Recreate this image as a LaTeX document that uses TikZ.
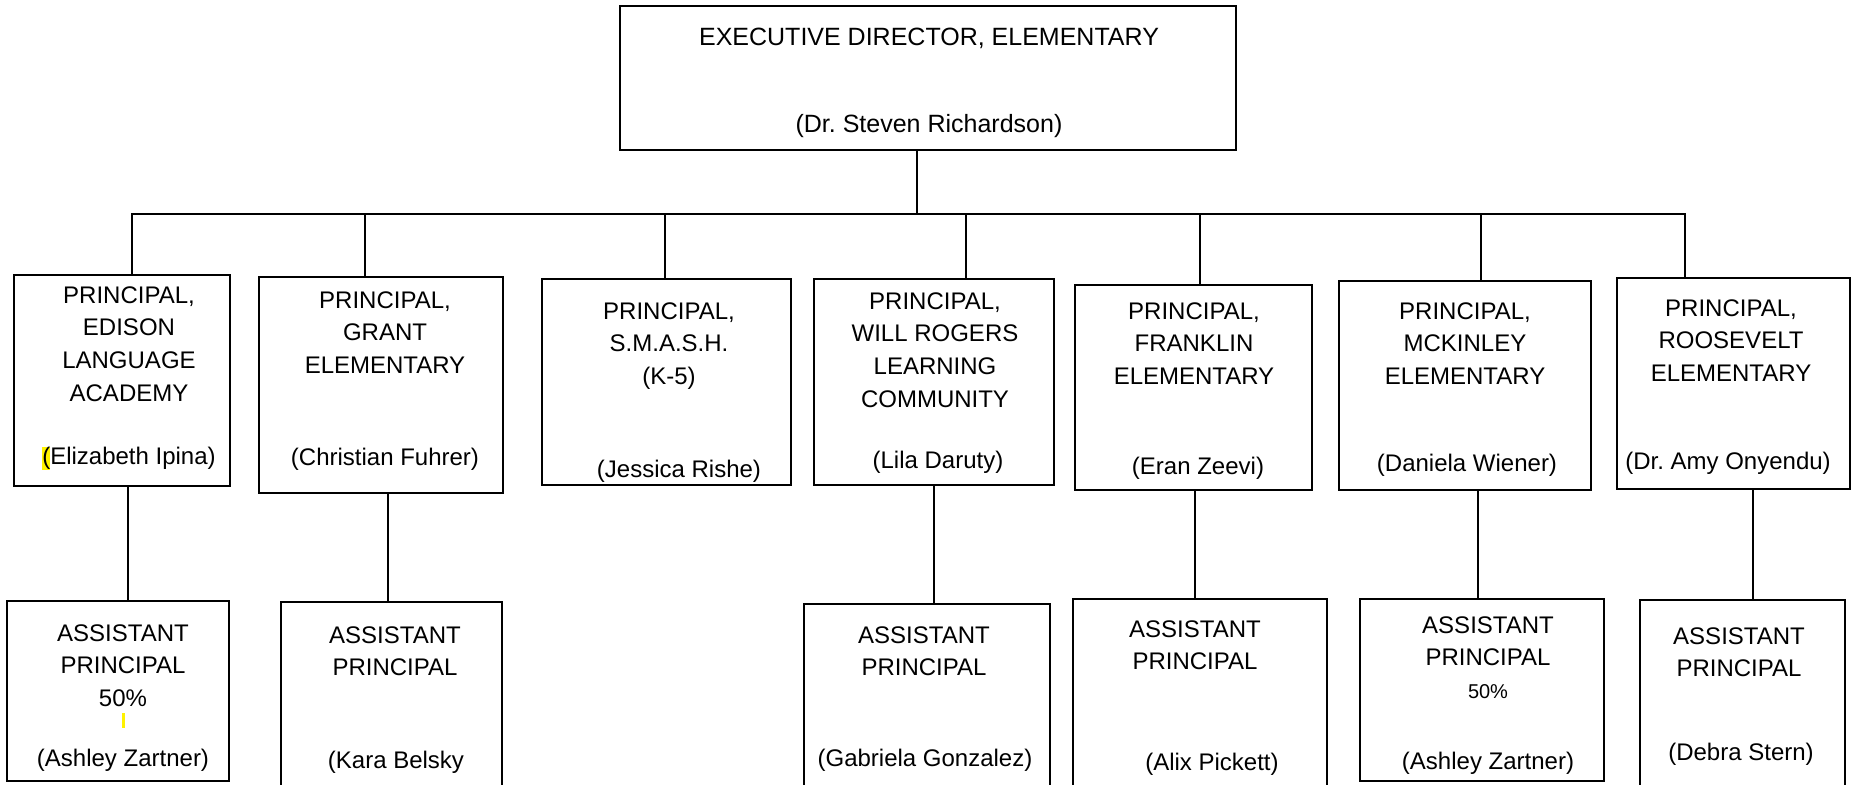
\documentclass[tikz,border=0pt]{standalone}
\usepackage{fontspec}
\setmainfont{Liberation Sans}
\newcommand\yelhl[1]{{\setlength{\fboxsep}{0pt}\colorbox{yellow}{#1}}}
\begin{document}
\begin{tikzpicture}[x=0.5pt,y=-0.5pt]
    \tikzstyle{box}=[draw=black, line width=1.4pt, outer sep=0pt, inner sep=0pt, anchor=north west]
    \tikzstyle{txt}=[anchor=north, align=center, inner sep=0pt, font=\fontsize{12}{16.4}\selectfont]
    \tikzstyle{link}=[draw=black, line width=1pt]
    \tikzset{sz/.style 2 args={minimum width=#1*0.5pt, minimum height=#2*0.5pt}}

    \fill[white] (0,0) rectangle (1853,784);
    \clip (0,0) rectangle (1853,784);

    % top
    \node[box, sz={616}{144}] (exec) at (620,6) {};
    \node[txt, font=\fontsize{12.5}{16}\selectfont] (exect) at (929,28) {EXECUTIVE DIRECTOR, ELEMENTARY};
    \node[txt, font=\fontsize{12.5}{16}\selectfont] (execn) at (929,114) {(Dr.\ Steven Richardson)};

    % principals
    \node[box, sz={216}{211}] (p1) at (14,275) {};
    \node[txt] (p1t) at (129,286) {PRINCIPAL,\\EDISON\\LANGUAGE\\ACADEMY};
    \node[txt] (p1n) at (129,447) {\yelhl{(}Elizabeth Ipina)};

    \node[box, sz={244}{216}] (p2) at (259,277) {};
    \node[txt] (p2t) at (385,291) {PRINCIPAL,\\GRANT\\ELEMENTARY};
    \node[txt] (p2n) at (385,448) {(Christian Fuhrer)};

    \node[box, sz={249}{206}] (p3) at (542,279) {};
    \node[txt] (p3t) at (669,302) {PRINCIPAL,\\S.M.A.S.H.\\(K-5)};
    \node[txt] (p3n) at (679,460) {(Jessica Rishe)};

    \node[box, sz={240}{206}] (p4) at (814,279) {};
    \node[txt] (p4t) at (935,292) {PRINCIPAL,\\WILL ROGERS\\LEARNING\\COMMUNITY};
    \node[txt] (p4n) at (938,451) {(Lila Daruty)};

    \node[box, sz={237}{205}] (p5) at (1075,285) {};
    \node[txt] (p5t) at (1194,302) {PRINCIPAL,\\FRANKLIN\\ELEMENTARY};
    \node[txt] (p5n) at (1198,457) {(Eran Zeevi)};

    \node[box, sz={252}{209}] (p6) at (1339,281) {};
    \node[txt] (p6t) at (1465,302) {PRINCIPAL,\\MCKINLEY\\ELEMENTARY};
    \node[txt] (p6n) at (1467,454) {(Daniela Wiener)};

    \node[box, sz={233}{211}] (p7) at (1617,278) {};
    \node[txt] (p7t) at (1731,299) {PRINCIPAL,\\ROOSEVELT\\ELEMENTARY};
    \node[txt] (p7n) at (1728,452) {(Dr.\ Amy Onyendu)};

    % assistants
    \node[box, sz={222}{180}] (a1) at (7,601) {};
    \node[txt] (a1t) at (123,624) {ASSISTANT\\PRINCIPAL\\50\%};
    \node[txt] (a1n) at (123,749) {(Ashley Zartner)};
    \fill[yellow] (122,713) rectangle (125,728);

    \node[box, sz={221}{250}] (a2) at (281,602) {};
    \node[txt] (a2t) at (395,626) {ASSISTANT\\PRINCIPAL};
    \node[txt] (a2n) at (396,751) {(Kara Belsky};

    \node[box, sz={246}{250}] (a3) at (804,604) {};
    \node[txt] (a3t) at (924,626) {ASSISTANT\\PRINCIPAL};
    \node[txt] (a3n) at (925,749) {(Gabriela Gonzalez)};

    \node[box, sz={254}{250}] (a4) at (1073,599) {};
    \node[txt] (a4t) at (1195,620) {ASSISTANT\\PRINCIPAL};
    \node[txt] (a4n) at (1212,753) {(Alix Pickett)};

    \node[box, sz={244}{182}] (a5) at (1360,599) {};
    \node[txt] (a5t) at (1488,616) {ASSISTANT\\PRINCIPAL\\{\fontsize{10}{16.4}\selectfont 50\%}};
    \node[txt] (a5n) at (1488,752) {(Ashley Zartner)};

    \node[box, sz={205}{250}] (a6) at (1640,600) {};
    \node[txt] (a6t) at (1739,627) {ASSISTANT\\PRINCIPAL};
    \node[txt] (a6n) at (1741,743) {(Debra Stern)};

    % connectors
    \coordinate (bus) at (917,214);
    \draw[link] ([xshift=-5.5pt]exec.south) -- (bus);
    \draw[link] ([xshift=5pt]p1.north) |- (bus) -| ([xshift=-24.25pt]p7.north);
    \draw[link] ([xshift=-8pt]p2.north) -- ([xshift=-8pt]p2.north |- bus);
    \draw[link] ([xshift=-0.75pt]p3.north) -- ([xshift=-0.75pt]p3.north |- bus);
    \draw[link] ([xshift=16pt]p4.north) -- ([xshift=16pt]p4.north |- bus);
    \draw[link] ([xshift=3.25pt]p5.north) -- ([xshift=3.25pt]p5.north |- bus);
    \draw[link] ([xshift=8pt]p6.north) -- ([xshift=8pt]p6.north |- bus);

    \draw[link] ([xshift=3pt]p1.south) -- ([xshift=3pt]p1.south |- a1.north);
    \draw[link] ([xshift=3.5pt]p2.south) -- ([xshift=3.5pt]p2.south |- a2.north);
    \draw[link] (p4.south) -- (p4.south |- a3.north);
    \draw[link] ([xshift=0.75pt]p5.south) -- ([xshift=0.75pt]p5.south |- a4.north);
    \draw[link] ([xshift=6.5pt]p6.south) -- ([xshift=6.5pt]p6.south |- a5.north);
    \draw[link] ([xshift=9.75pt]p7.south) -- ([xshift=9.75pt]p7.south |- a6.north);
\end{tikzpicture}
\end{document}
